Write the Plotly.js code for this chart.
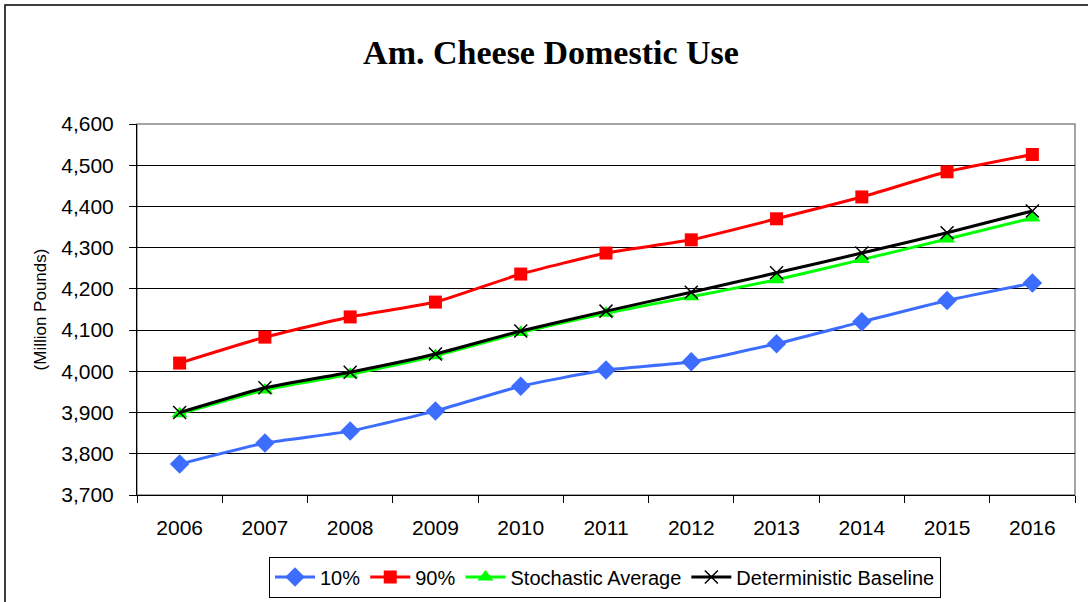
<!DOCTYPE html>
<html><head><meta charset="utf-8">
<script src="https://cdn.plot.ly/plotly-3.0.1.min.js"></script>
<style>html,body{margin:0;padding:0;background:#fff}#c{width:1088px;height:602px}</style>
</head><body><div id="c"></div>
<script>
const years = ['2006','2007','2008','2009','2010','2011','2012','2013','2014','2015','2016'];
const p10 = [3775,3826,3855,3904,3964,4003,4023,4067,4120,4172,4214];
const p90 = [4020,4083,4132,4168,4236,4287,4319,4370,4423,4484,4526];
const stochAvg = [3897,3955,3993,4038,4094,4141,4181,4222,4271,4321,4372];
const detBase = [3900,3960,3998,4042,4098,4146,4192,4239,4287,4336,4389];

const L=137, R=13, T=124, B=107, W=1088, H=602;
const pw=W-L-R, ph=H-T-B;
const px=v=>(v-L)/pw, py=v=>(H-B-v)/ph;

const mk=(name,y,color,sym,msize,extra)=>Object.assign({
  type:'scatter',mode:'lines+markers',name:name,x:years,y:y,
  line:{color:color,width:3,shape:'spline',smoothing:0.5},
  marker:{symbol:sym,size:msize,color:color}
},extra||{});

const data=[
  mk('10%',p10,'#3D6DFF','diamond',15),
  mk('90%',p90,'#FF0000','square',13),
  mk('Stochastic Average',stochAvg,'#00FF00','triangle-up',14),
  mk('Deterministic Baseline',detBase,'#000000','x-thin-open',13,{marker:{symbol:'x-thin-open',size:13,color:'#000',line:{color:'#000',width:1.5}}})
];

const layout={
  width:W,height:H,
  margin:{l:L,r:R,t:T,b:B,pad:0,autoexpand:false},
  paper_bgcolor:'#fff',plot_bgcolor:'#fff',
  font:{family:'Liberation Sans, Arial, sans-serif',color:'#000',size:21},
  title:{text:'<b>Am. Cheese Domestic Use</b>',font:{family:'Liberation Serif, Times New Roman, serif',size:34,color:'#000'},
    x:551/W,xref:'container',xanchor:'center',y:1-52/H,yref:'container',yanchor:'middle'},
  xaxis:{type:'category',tickson:'boundaries',ticks:'outside',ticklen:7,tickcolor:'#000',
    showline:true,linecolor:'#000',linewidth:1,showgrid:false,zeroline:false,
    tickfont:{size:21},ticklabelstandoff:14,range:[-0.5,10.5]},
  yaxis:{range:[3700,4600],dtick:100,tickformat:',d',ticks:'outside',ticklen:7,tickcolor:'#000',
    showline:true,linecolor:'#000',linewidth:1,showgrid:true,gridcolor:'#000',gridwidth:1,zeroline:false,
    tickfont:{size:21},ticklabelstandoff:11,
    title:{text:'(Million Pounds)',font:{size:17},standoff:10}},
  showlegend:true,
  legend:{orientation:'h',x:px(605),xanchor:'center',y:py(577),yanchor:'middle',
    bordercolor:'#000',borderwidth:1,font:{size:20},itemwidth:40,tracegroupgap:0,bgcolor:'#fff'},
  shapes:[
    {type:'rect',xref:'paper',yref:'paper',x0:0,x1:1,y0:0,y1:1,line:{color:'#888',width:1.5},layer:'below'},
    {type:'rect',xref:'paper',yref:'paper',x0:px(5),x1:px(1092),y0:py(606),y1:py(5),line:{color:'#000',width:1.5}}
  ]
};
Plotly.newPlot('c',data,layout,{displayModeBar:false,staticPlot:true});
</script></body></html>
